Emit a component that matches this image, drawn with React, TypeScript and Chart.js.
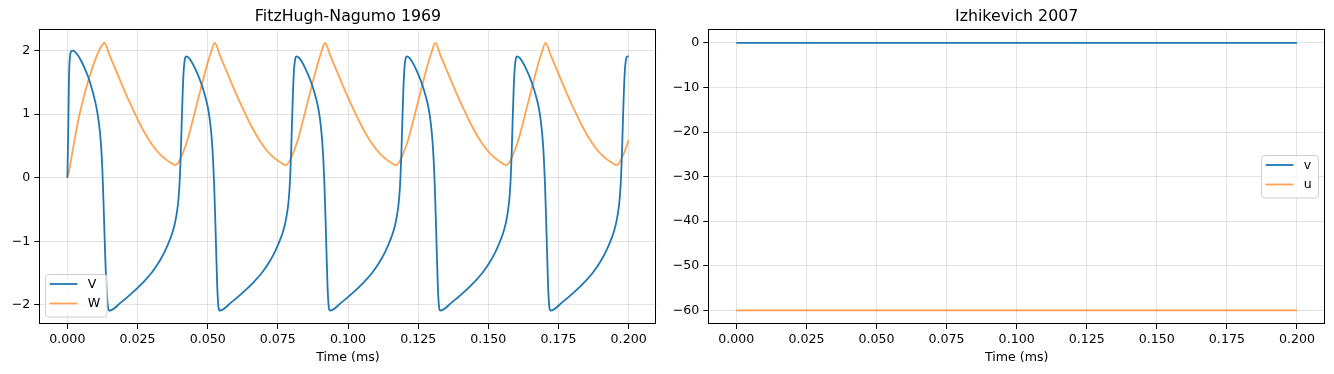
import React, { useEffect, useRef } from "react";
import { Chart, registerables } from "chart.js";

Chart.register(...registerables);

// ---------- data ----------
const xTicks = [0, 0.025, 0.05, 0.075, 0.1, 0.125, 0.15, 0.175, 0.2];
const fhnYTicks = [-2, -1, 0, 1, 2];
const izhYTicks = [-60, -50, -40, -30, -20, -10, 0];

const fhnTitle = "FitzHugh-Nagumo 1969";
const izhTitle = "Izhikevich 2007";
const xLabel = "Time (ms)";

// FitzHugh-Nagumo V (time, value)
const fhnVTime = [
  0.0, 0.0003, 0.0006, 0.001, 0.0014, 0.0019, 0.0027, 0.0037, 0.0049, 0.0061, 0.0073, 0.0084, 0.0094, 0.0103, 0.011, 0.0116, 0.0121, 0.0125, 0.013, 0.0135, 0.0141, 0.0146, 0.015,
  0.0191, 0.0231, 0.0271, 0.0301, 0.0326, 0.0346, 0.0361, 0.0373, 0.0382, 0.0389, 0.0394, 0.0398, 0.0401, 0.0404, 0.0407, 0.0411, 0.0415, 0.0419, 0.0424,
  0.0432, 0.0442, 0.0454, 0.0466, 0.0478, 0.0488, 0.0497, 0.0504, 0.051, 0.0515, 0.0519, 0.0523, 0.0528, 0.0534, 0.0539, 0.0543,
  0.0584, 0.0624, 0.0664, 0.0694, 0.0719, 0.0739, 0.0754, 0.0766, 0.0775, 0.0782, 0.0787, 0.0791, 0.0794, 0.0797, 0.08, 0.0804, 0.0808, 0.0812, 0.0817,
  0.0825, 0.0835, 0.0847, 0.0859, 0.0871, 0.0881, 0.089, 0.0897, 0.0903, 0.0908, 0.0912, 0.0916, 0.0921, 0.0927, 0.0932, 0.0936,
  0.0977, 0.1017, 0.1057, 0.1087, 0.1112, 0.1132, 0.1147, 0.1159, 0.1168, 0.1175, 0.118, 0.1184, 0.1187, 0.119, 0.1193, 0.1197, 0.1201, 0.1205, 0.121,
  0.1218, 0.1228, 0.124, 0.1252, 0.1264, 0.1274, 0.1283, 0.129, 0.1296, 0.1301, 0.1305, 0.1309, 0.1314, 0.132, 0.1325, 0.1329,
  0.137, 0.141, 0.145, 0.148, 0.1505, 0.1525, 0.154, 0.1552, 0.1561, 0.1568, 0.1573, 0.1577, 0.158, 0.1583, 0.1586, 0.159, 0.1594, 0.1598, 0.1603,
  0.1611, 0.1621, 0.1633, 0.1645, 0.1657, 0.1667, 0.1676, 0.1683, 0.1689, 0.1694, 0.1698, 0.1702, 0.1707, 0.1713, 0.1718, 0.1722,
  0.1763, 0.1803, 0.1843, 0.1873, 0.1898, 0.1918, 0.1933, 0.1945, 0.1954, 0.1961, 0.1966, 0.197, 0.1973, 0.1976, 0.1979, 0.1983, 0.1987, 0.1991, 0.1996, 0.2,
];
const fhnV = [
  0.0, 0.7, 1.6, 1.93, 1.99, 2.0, 1.98, 1.93, 1.84, 1.73, 1.6, 1.45, 1.29, 1.12, 0.94, 0.72, 0.45, 0.1, -0.55, -1.25, -1.85, -2.06, -2.09,
  -1.96, -1.81, -1.64, -1.49, -1.33, -1.17, -1.02, -0.88, -0.74, -0.58, -0.42, -0.22, 0.02, 0.35, 0.8, 1.35, 1.72, 1.87, 1.91,
  1.89, 1.83, 1.73, 1.61, 1.47, 1.33, 1.18, 1.02, 0.82, 0.58, 0.3, -0.1, -0.8, -1.7, -2.05, -2.09,
  -1.96, -1.81, -1.64, -1.49, -1.33, -1.17, -1.02, -0.88, -0.74, -0.58, -0.42, -0.22, 0.02, 0.35, 0.8, 1.35, 1.72, 1.87, 1.91,
  1.89, 1.83, 1.73, 1.61, 1.47, 1.33, 1.18, 1.02, 0.82, 0.58, 0.3, -0.1, -0.8, -1.7, -2.05, -2.09,
  -1.96, -1.81, -1.64, -1.49, -1.33, -1.17, -1.02, -0.88, -0.74, -0.58, -0.42, -0.22, 0.02, 0.35, 0.8, 1.35, 1.72, 1.87, 1.91,
  1.89, 1.83, 1.73, 1.61, 1.47, 1.33, 1.18, 1.02, 0.82, 0.58, 0.3, -0.1, -0.8, -1.7, -2.05, -2.09,
  -1.96, -1.81, -1.64, -1.49, -1.33, -1.17, -1.02, -0.88, -0.74, -0.58, -0.42, -0.22, 0.02, 0.35, 0.8, 1.35, 1.72, 1.87, 1.91,
  1.89, 1.83, 1.73, 1.61, 1.47, 1.33, 1.18, 1.02, 0.82, 0.58, 0.3, -0.1, -0.8, -1.7, -2.05, -2.09,
  -1.96, -1.81, -1.64, -1.49, -1.33, -1.17, -1.02, -0.88, -0.74, -0.58, -0.42, -0.22, 0.02, 0.35, 0.8, 1.35, 1.72, 1.87, 1.91, 1.91,
];

// FitzHugh-Nagumo W (time, value)
const fhnWTime = [
  0.0, 0.0005, 0.001, 0.002, 0.003, 0.0045, 0.006, 0.0075, 0.009, 0.0105, 0.012, 0.0132,
  0.0152, 0.0172, 0.0192, 0.0212, 0.0232, 0.0252, 0.0272, 0.0292, 0.0312, 0.0332, 0.0352, 0.0372, 0.0385,
  0.0395, 0.0405, 0.0415, 0.0425, 0.0435, 0.045, 0.0465, 0.048, 0.0495, 0.051, 0.0525,
  0.0545, 0.0565, 0.0585, 0.0605, 0.0625, 0.0645, 0.0665, 0.0685, 0.0705, 0.0725, 0.0745, 0.0765, 0.0778,
  0.0788, 0.0798, 0.0808, 0.0818, 0.0828, 0.0843, 0.0858, 0.0873, 0.0888, 0.0903, 0.0918,
  0.0938, 0.0958, 0.0978, 0.0998, 0.1018, 0.1038, 0.1058, 0.1078, 0.1098, 0.1118, 0.1138, 0.1158, 0.1171,
  0.1181, 0.1191, 0.1201, 0.1211, 0.1221, 0.1236, 0.1251, 0.1266, 0.1281, 0.1296, 0.1311,
  0.1331, 0.1351, 0.1371, 0.1391, 0.1411, 0.1431, 0.1451, 0.1471, 0.1491, 0.1511, 0.1531, 0.1551, 0.1564,
  0.1574, 0.1584, 0.1594, 0.1604, 0.1614, 0.1629, 0.1644, 0.1659, 0.1674, 0.1689, 0.1704,
  0.1724, 0.1744, 0.1764, 0.1784, 0.1804, 0.1824, 0.1844, 0.1864, 0.1884, 0.1904, 0.1924, 0.1944, 0.1957,
  0.1967, 0.1977, 0.1987, 0.1997, 0.2,
];
const fhnW = [
  0.0, 0.08, 0.2, 0.46, 0.7, 1.03, 1.3, 1.53, 1.74, 1.92, 2.06, 2.12,
  1.91, 1.7, 1.49, 1.285, 1.09, 0.905, 0.735, 0.585, 0.46, 0.36, 0.285, 0.225, 0.2,
  0.235, 0.32, 0.43, 0.55, 0.7, 0.96, 1.22, 1.48, 1.73, 1.95, 2.12,
  1.91, 1.7, 1.49, 1.285, 1.09, 0.905, 0.735, 0.585, 0.46, 0.36, 0.285, 0.225, 0.2,
  0.235, 0.32, 0.43, 0.55, 0.7, 0.96, 1.22, 1.48, 1.73, 1.95, 2.12,
  1.91, 1.7, 1.49, 1.285, 1.09, 0.905, 0.735, 0.585, 0.46, 0.36, 0.285, 0.225, 0.2,
  0.235, 0.32, 0.43, 0.55, 0.7, 0.96, 1.22, 1.48, 1.73, 1.95, 2.12,
  1.91, 1.7, 1.49, 1.285, 1.09, 0.905, 0.735, 0.585, 0.46, 0.36, 0.285, 0.225, 0.2,
  0.235, 0.32, 0.43, 0.55, 0.7, 0.96, 1.22, 1.48, 1.73, 1.95, 2.12,
  1.91, 1.7, 1.49, 1.285, 1.09, 0.905, 0.735, 0.585, 0.46, 0.36, 0.285, 0.225, 0.2,
  0.235, 0.32, 0.43, 0.55, 0.59,
];

// Izhikevich (flat traces)
const izhTime = [0.0, 0.05, 0.1, 0.15, 0.2];
const izhV = [0, 0, 0, 0, 0];
const izhU = [-60, -60, -60, -60, -60];

// ---------- styling ----------
const FONT = "'DejaVu Sans', 'Liberation Sans', sans-serif";
const BLUE = "#1f77b4";
const ORANGE = "rgba(255,127,14,0.72)";
const GRID = "rgba(176,176,176,0.35)";

const minus = (s: string) => s.replace(/-/g, "\u2212");

const framePlugin = {
  id: "frame",
  afterDraw(chart: any) {
    const { ctx, chartArea: a } = chart;
    ctx.save();
    ctx.strokeStyle = "#000";
    ctx.lineWidth = 1;
    ctx.strokeRect(Math.round(a.left) + 0.5, Math.round(a.top) + 0.5, Math.round(a.right - a.left) - 1, Math.round(a.bottom - a.top) - 1);
    ctx.restore();
  },
};

function makeLegend(place: "lowerleft" | "centerright") {
  return {
    id: "mplLegend",
    afterDraw(chart: any) {
      const { ctx, chartArea: a } = chart;
      ctx.save();
      ctx.font = `12.6px ${FONT}`;
      const items = chart.data.datasets;
      const maxW = Math.max(...items.map((d: any) => ctx.measureText(d.label).width));
      const w = 42.7 + maxW + 6.3;
      const h = 42.5;
      let x: number, y: number;
      if (place === "lowerleft") {
        x = a.left + 6;
        y = a.bottom - 7.7 - h;
      } else {
        x = a.right - 6.7 - w;
        y = (a.top + a.bottom) / 2 - h / 2;
      }
      x = Math.round(x);
      y = Math.round(y);
      ctx.beginPath();
      if ((ctx as any).roundRect) (ctx as any).roundRect(x + 0.5, y + 0.5, w, h, 3);
      else ctx.rect(x + 0.5, y + 0.5, w, h);
      ctx.fillStyle = "rgba(255,255,255,0.8)";
      ctx.fill();
      ctx.strokeStyle = "#d0d0d0";
      ctx.lineWidth = 1;
      ctx.stroke();
      items.forEach((d: any, i: number) => {
        const ly = y + 10 + i * 19.5;
        ctx.beginPath();
        ctx.moveTo(x + 4.7, ly);
        ctx.lineTo(x + 32.4, ly);
        ctx.strokeStyle = d.borderColor;
        ctx.lineWidth = 1.8;
        ctx.stroke();
        ctx.fillStyle = "#000";
        ctx.textBaseline = "middle";
        ctx.textAlign = "left";
        ctx.fillText(d.label, x + 42.7, ly + 0.5);
      });
      ctx.restore();
    },
  };
}

function series(t: number[], v: number[]) {
  return t.map((x, i) => ({ x, y: v[i] }));
}

function lineDs(label: string, data: any[], color: string) {
  return {
    label,
    data,
    borderColor: color,
    backgroundColor: color,
    borderWidth: 1.8,
    pointRadius: 0,
    pointHoverRadius: 0,
    fill: false,
    cubicInterpolationMode: "monotone" as const,
  };
}

function makeConfig(opts: {
  title: string;
  datasets: any[];
  yMin: number;
  yMax: number;
  yTicks: number[];
  yWidth: number;
  rightPad: number;
  yFmt: (v: number) => string;
  legend: "lowerleft" | "centerright";
}) {
  const tickFont = { family: FONT, size: 12.6 };
  return {
    type: "line" as const,
    data: { datasets: opts.datasets },
    options: {
      animation: false as const,
      responsive: false,
      maintainAspectRatio: false,
      events: [],
      layout: { padding: { left: 0, right: opts.rightPad, top: 0, bottom: 0 } },
      plugins: {
        legend: { display: false },
        tooltip: { enabled: false },
        title: {
          display: true,
          fullSize: false,
          text: opts.title,
          color: "#000",
          font: { family: FONT, size: 15.8, weight: "normal" as const },
          padding: { top: 7.3, bottom: 3 },
        },
      },
      scales: {
        x: {
          type: "linear" as const,
          min: -0.01,
          max: 0.21,
          afterBuildTicks: (s: any) => {
            s.ticks = xTicks.map((v) => ({ value: v }));
          },
          afterFit: (s: any) => {
            s.height = 50;
          },
          ticks: {
            callback: (v: any) => Number(v).toFixed(3),
            color: "#000",
            font: tickFont,
            padding: 3,
            maxRotation: 0,
            autoSkip: false,
          },
          grid: { color: GRID, lineWidth: 1, tickColor: "#000", tickLength: 5, tickWidth: 1 },
          border: { display: false },
          title: {
            display: true,
            text: xLabel,
            color: "#000",
            font: tickFont,
            padding: { top: 0, bottom: 9 },
          },
        },
        y: {
          type: "linear" as const,
          min: opts.yMin,
          max: opts.yMax,
          afterBuildTicks: (s: any) => {
            s.ticks = opts.yTicks.map((v) => ({ value: v }));
          },
          afterFit: (s: any) => {
            s.width = opts.yWidth;
          },
          ticks: {
            callback: (v: any) => opts.yFmt(Number(v)),
            color: "#000",
            font: tickFont,
            padding: 4,
            autoSkip: false,
          },
          grid: { color: GRID, lineWidth: 1, tickColor: "#000", tickLength: 5, tickWidth: 1 },
          border: { display: false },
        },
      },
    },
    plugins: [framePlugin, makeLegend(opts.legend)],
  };
}

export default function App() {
  const leftRef = useRef<HTMLCanvasElement>(null);
  const rightRef = useRef<HTMLCanvasElement>(null);

  useEffect(() => {
    const left = new Chart(
      leftRef.current!,
      makeConfig({
        title: fhnTitle,
        datasets: [
          lineDs("V", series(fhnVTime, fhnV), BLUE),
          lineDs("W", series(fhnWTime, fhnW), ORANGE),
        ],
        yMin: -2.3,
        yMax: 2.336,
        yTicks: fhnYTicks,
        yWidth: 39.3,
        rightPad: 10.3,
        yFmt: (v) => minus(String(Math.round(v))),
        legend: "lowerleft",
      }) as any
    );
    const right = new Chart(
      rightRef.current!,
      makeConfig({
        title: izhTitle,
        datasets: [
          lineDs("v", series(izhTime, izhV), BLUE),
          lineDs("u", series(izhTime, izhU), ORANGE),
        ],
        yMin: -63.07,
        yMax: 3.07,
        yTicks: izhYTicks,
        yWidth: 41.3,
        rightPad: 9,
        yFmt: (v) => minus(String(Math.round(v))),
        legend: "centerright",
      }) as any
    );
    return () => {
      left.destroy();
      right.destroy();
    };
  }, []);

  return (
    <div style={{ position: "fixed", left: 0, top: 0, width: 1334, height: 374, background: "#fff" }}>
      <canvas ref={leftRef} width={667} height={374} style={{ position: "absolute", left: 0, top: 0, width: 667, height: 374 }} />
      <canvas ref={rightRef} width={667} height={374} style={{ position: "absolute", left: 667, top: 0, width: 667, height: 374 }} />
    </div>
  );
}
